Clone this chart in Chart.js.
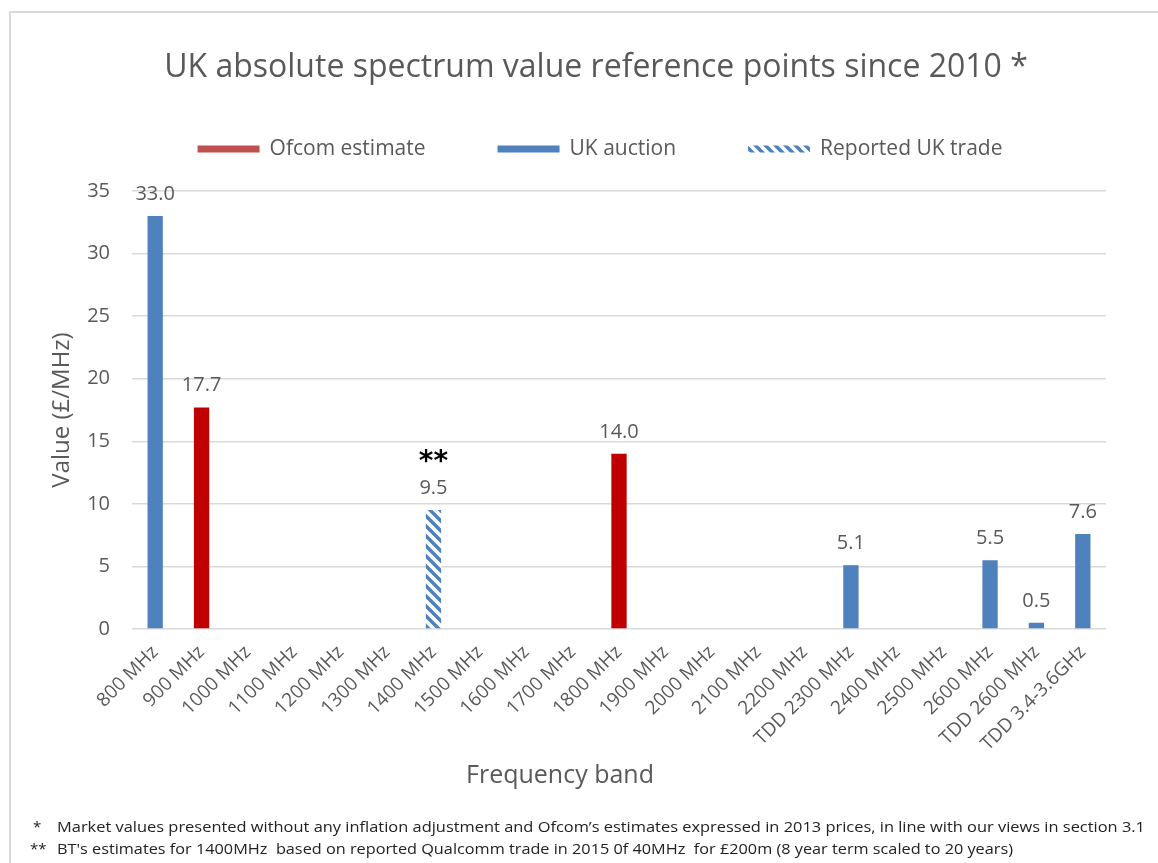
<!DOCTYPE html>
<html>
<head>
<meta charset="utf-8">
<script src="https://cdn.jsdelivr.net/npm/chart.js@4.4.0/dist/chart.umd.min.js"></script>
<style>
    body { margin: 0; background: #ffffff; }
    #wrap { width: 1158px; height: 863px; position: relative; }
</style>
</head>
<body>
<div id="wrap"><canvas id="spectrumChart"></canvas></div>
<script>
const categories = ['800 MHz', '900 MHz', '1000 MHz', '1100 MHz', '1200 MHz', '1300 MHz', '1400 MHz',
    '1500 MHz', '1600 MHz', '1700 MHz', '1800 MHz', '1900 MHz', '2000 MHz', '2100 MHz', '2200 MHz',
    'TDD 2300 MHz', '2400 MHz', '2500 MHz', '2600 MHz', 'TDD 2600 MHz', 'TDD 3.4-3.6GHz'];

const ofcomEstimate = [null, 17.7, null, null, null, null, null, null, null, null, 14.0,
    null, null, null, null, null, null, null, null, null, null];
const ukAuction = [33.0, null, null, null, null, null, null, null, null, null, null,
    null, null, null, null, 5.1, null, null, 5.5, 0.5, 7.6];
const reportedTrade = [null, null, null, null, null, null, 9.5, null, null, null, null,
    null, null, null, null, null, null, null, null, null, null];

const seriesNames = ['Ofcom estimate', 'UK auction', 'Reported UK trade'];
const chartTitle = 'UK absolute spectrum value reference points since 2010 *';
const xTitle = 'Frequency band';
const yTitle = 'Value (£/MHz)';
const footnotes = [
    ['*', 'Market values presented without any inflation adjustment and Ofcom\u2019s estimates expressed in 2013 prices, in line with our views in section 3.1'],
    ['**', 'BT\'s estimates for 1400MHz  based on reported Qualcomm trade in 2015 0f 40MHz  for \u00a3200m (8 year term scaled to 20 years)']
];

const textGrey = '#595959';
const blue = '#4F81BD';

function makeHatch(color) {
    const tile = document.createElement('canvas');
    tile.width = 10;
    tile.height = 10;
    const g = tile.getContext('2d');
    g.fillStyle = '#ffffff';
    g.fillRect(0, 0, 10, 10);
    g.strokeStyle = color;
    g.lineWidth = 3.5;
    g.beginPath();
    g.moveTo(-5, -5); g.lineTo(15, 15);
    g.moveTo(-5, 5); g.lineTo(5, 15);
    g.moveTo(5, -5); g.lineTo(15, 5);
    g.stroke();
    return document.createElement('canvas').getContext('2d').createPattern(tile, 'repeat');
}
const hatch = makeHatch(blue);

const extras = {
    id: 'extras',
    beforeDraw(chart) {
        const ctx = chart.ctx;
        ctx.save();
        ctx.fillStyle = '#ffffff';
        ctx.fillRect(0, 0, chart.width, chart.height);
        ctx.strokeStyle = '#d9d9d9';
        ctx.lineWidth = 2;
        ctx.strokeRect(10, 12, 1170, 900);
        ctx.restore();
    },
    afterDraw(chart) {
        const ctx = chart.ctx;
        ctx.save();

        // title
        ctx.fillStyle = textGrey;
        ctx.font = '32px "Open Sans"';
        ctx.textAlign = 'center';
        ctx.textBaseline = 'middle';
        ctx.fillText(chartTitle, 596, 68);

        // legend
        ctx.font = '21px "Open Sans"';
        const gap = 72;
        const items = chart.data.datasets.map(ds => ({
            label: ds.label,
            fill: ds.legendColor || ds.backgroundColor,
            w: 62 + 10 + ctx.measureText(ds.label).width
        }));
        let total = items.reduce((s, it) => s + it.w, 0) + gap * (items.length - 1);
        let x = 600 - total / 2;
        items.forEach(it => {
            ctx.fillStyle = it.fill;
            ctx.fillRect(x, 145.5, 62, 7);
            ctx.fillStyle = textGrey;
            ctx.textAlign = 'left';
            ctx.fillText(it.label, x + 72, 149);
            x += it.w + gap;
        });

        // value labels
        ctx.textAlign = 'center';
        ctx.textBaseline = 'alphabetic';
        chart.data.datasets.forEach((ds, i) => {
            chart.getDatasetMeta(i).data.forEach((bar, j) => {
                const v = ds.data[j];
                if (v === null) return;
                ctx.fillStyle = textGrey;
                ctx.font = '20px "Open Sans"';
                ctx.fillText(v.toFixed(1), bar.x, bar.y - 16);
                if (ds.note) {
                    ctx.fillStyle = '#000000';
                    ctx.font = 'bold 28px "DejaVu Sans"';
                    ctx.fillText(ds.note, bar.x, bar.y - 40);
                }
            });
        });

        // x axis title
        ctx.fillStyle = textGrey;
        ctx.font = '25px "Open Sans"';
        ctx.textBaseline = 'middle';
        ctx.fillText(xTitle, 560, 776);

        // footnotes
        ctx.fillStyle = '#222222';
        ctx.font = '15px "Open Sans"';
        ctx.textAlign = 'left';
        const ends = [1145, 1013];
        footnotes.forEach((fn, k) => {
            const y = 828 + k * 22;
            ctx.fillText(fn[0], k === 0 ? 33 : 30, y);
            const w = ctx.measureText(fn[1]).width;
            ctx.save();
            ctx.translate(57, y);
            ctx.scale((ends[k] - 57) / w, 1);
            ctx.fillText(fn[1], 0, 0);
            ctx.restore();
        });

        ctx.restore();
    }
};

new Chart(document.getElementById('spectrumChart'), {
    type: 'bar',
    data: {
        labels: categories,
        datasets: [{
            label: seriesNames[0],
            data: ofcomEstimate,
            backgroundColor: '#C00000',
            legendColor: '#C0504D'
        }, {
            label: seriesNames[1],
            data: ukAuction,
            backgroundColor: blue
        }, {
            label: seriesNames[2],
            data: reportedTrade,
            backgroundColor: hatch,
            note: '**'
        }]
    },
    options: {
        responsive: true,
        maintainAspectRatio: false,
        animation: false,
        devicePixelRatio: 1,
        categoryPercentage: 0.33,
        barPercentage: 1,
        layout: {
            padding: {top: 191, right: 52, bottom: 68, left: 0}
        },
        plugins: {
            legend: {display: false},
            title: {display: false},
            tooltip: {enabled: false}
        },
        scales: {
            x: {
                stacked: true,
                grid: {display: false},
                border: {display: false},
                ticks: {
                    autoSkip: false,
                    minRotation: 45,
                    maxRotation: 45,
                    padding: 4,
                    color: textGrey,
                    font: {family: 'Open Sans', size: 19}
                },
                afterFit(scale) { scale.height = 166; }
            },
            y: {
                stacked: true,
                min: 0,
                max: 35,
                grid: {color: '#d9d9d9', lineWidth: 1.5, drawTicks: false},
                border: {display: false},
                ticks: {
                    stepSize: 5,
                    padding: 22,
                    color: textGrey,
                    font: {family: 'Open Sans', size: 20}
                },
                title: {
                    display: true,
                    text: yTitle,
                    color: textGrey,
                    font: {family: 'Open Sans', size: 24},
                    padding: {top: 48, bottom: 0}
                },
                afterFit(scale) { scale.width = 132; }
            }
        }
    },
    plugins: [extras]
});
</script>
</body>
</html>
